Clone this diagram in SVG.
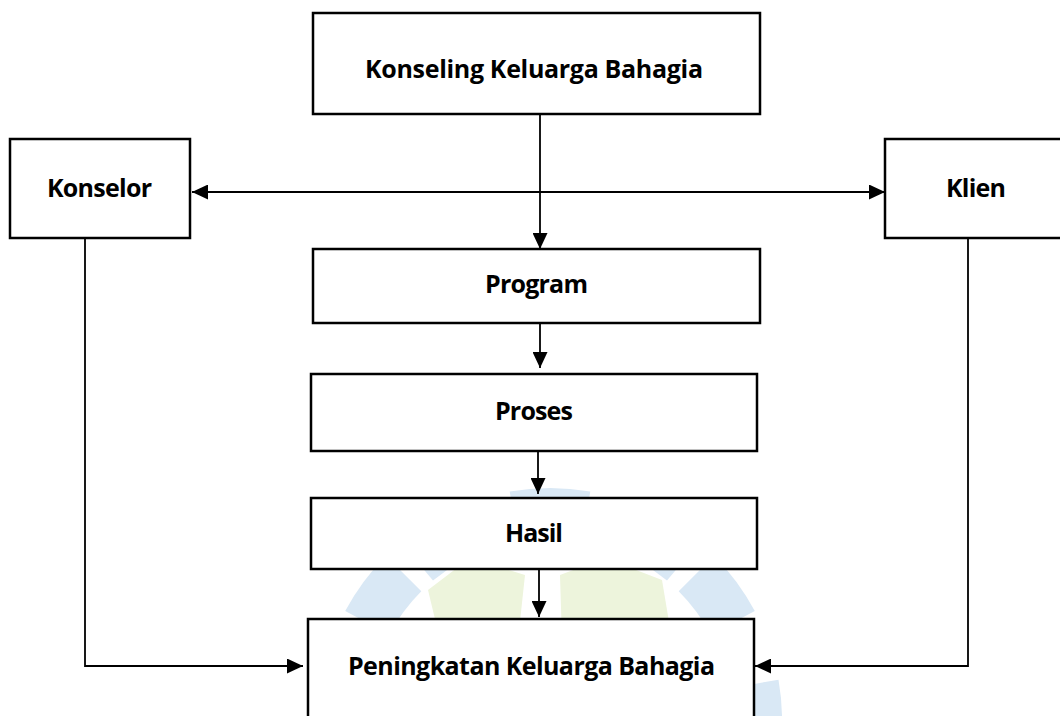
<svg xmlns="http://www.w3.org/2000/svg" width="1060" height="716" viewBox="0 0 1060 716">
<style>
.box{fill:#fff;stroke:#000;stroke-width:2.5}
.lbl{font-family:"Open Sans","Liberation Sans",sans-serif;font-weight:700;font-size:25px;fill:#000;text-anchor:middle}
.con{fill:none;stroke:#000;stroke-width:1.8}
.wb{fill:#d9e8f5}
.wg{fill:#edf4dc}
</style>
<defs>
<marker id="ah" viewBox="0 0 16 15" refX="16" refY="7.5" markerWidth="16" markerHeight="15" markerUnits="userSpaceOnUse" orient="auto-start-reverse">
<path d="M0,0 L16,7.5 L0,15 Z" fill="#000"/>
</marker>
</defs>
<rect width="1060" height="716" fill="#fff"/>
<g id="watermark" transform="translate(0,-10)">
<path class="wb" d="M509.7,501.5 A232,232 0 0 1 590.3,501.5 L581.6,550.8 A182,182 0 0 0 518.4,550.8 Z"/>
<path class="wb" d="M400.9,552.3 A232,232 0 0 1 478.3,509.3 L493.8,556.9 A182,182 0 0 0 433.0,590.6 Z"/>
<path class="wb" d="M621.7,509.3 A232,232 0 0 1 699.1,552.3 L667.0,590.6 A182,182 0 0 0 606.2,556.9 Z"/>
<path class="wb" d="M714.0,566.0 A232,232 0 0 1 754.8,621.1 L710.7,644.6 A182,182 0 0 0 678.7,601.3 Z"/>
<path class="wb" d="M345.2,621.1 A232,232 0 0 1 386.0,566.0 L421.3,601.3 A182,182 0 0 0 389.3,644.6 Z"/>
<path class="wb" d="M778.5,689.7 A232,232 0 0 1 778.5,770.3 L729.2,761.6 A182,182 0 0 0 729.2,698.4 Z"/>
<path class="wb" d="M321.5,770.3 A232,232 0 0 1 321.5,689.7 L370.8,698.4 A182,182 0 0 0 370.8,761.6 Z"/>
<polygon class="wg" points="428,600 470,568 525,585 518,650 440,650"/>
<polygon class="wg" points="560,585 605,568 662,590 672,650 562,650"/>
</g>
<g id="connectors">
<path class="con" d="M540,114 L540,249" marker-end="url(#ah)"/>
<path class="con" d="M192,192 L885,192" marker-start="url(#ah)" marker-end="url(#ah)"/>
<path class="con" d="M540,323 L540,368" marker-end="url(#ah)"/>
<path class="con" d="M538,451 L538,494" marker-end="url(#ah)"/>
<path class="con" d="M539,569 L539,617" marker-end="url(#ah)"/>
<path class="con" d="M85,238 L85,666 L303,666" marker-end="url(#ah)"/>
<path class="con" d="M968,238 L968,666 L755,666" marker-end="url(#ah)"/>
</g>
<g id="node-konseling">
<rect class="box" x="313" y="13" width="447" height="101"/>
<text class="lbl" x="534" y="78" textLength="338">Konseling Keluarga Bahagia</text>
</g>
<g id="node-konselor">
<rect class="box" x="10" y="139" width="180" height="99"/>
<text class="lbl" x="99.5" y="197" textLength="105">Konselor</text>
</g>
<g id="node-klien">
<rect class="box" x="885" y="139" width="185" height="99"/>
<text class="lbl" x="976" y="197" textLength="60">Klien</text>
</g>
<g id="node-program">
<rect class="box" x="313" y="249" width="447" height="74"/>
<text class="lbl" x="536.5" y="293" textLength="103">Program</text>
</g>
<g id="node-proses">
<rect class="box" x="311" y="374" width="446" height="77"/>
<text class="lbl" x="534" y="420" textLength="78">Proses</text>
</g>
<g id="node-hasil">
<rect class="box" x="311" y="498" width="446" height="71"/>
<text class="lbl" x="534" y="542" textLength="58">Hasil</text>
</g>
<g id="node-peningkatan">
<rect class="box" x="308" y="619" width="446" height="120"/>
<text class="lbl" x="531.5" y="675" textLength="367">Peningkatan Keluarga Bahagia</text>
</g>
</svg>
